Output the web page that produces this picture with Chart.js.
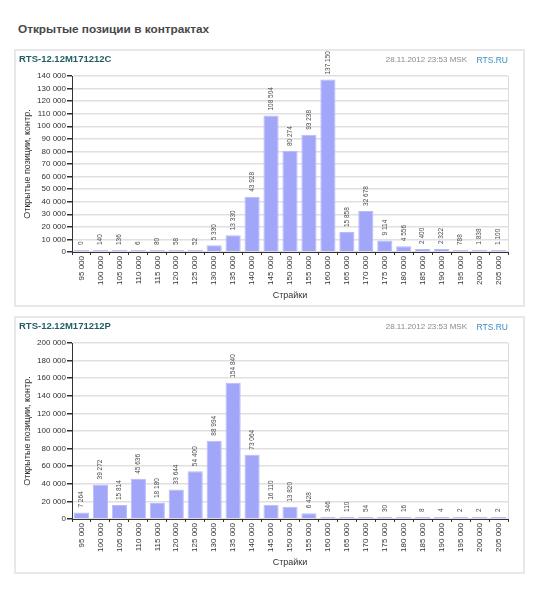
<!DOCTYPE html>
<html>
<head>
<meta charset="utf-8">
<script src="https://cdn.jsdelivr.net/npm/chart.js@4.4.0/dist/chart.umd.min.js"></script>
<style>
  body { margin: 0; background: #fff; width: 550px; height: 594px; position: relative; overflow: hidden;
         font-family: "Liberation Sans", Arial, sans-serif; }
  .page-title { position: absolute; left: 18px; top: 21px; font-size: 11.8px; font-weight: bold; color: #474747; line-height: 16px; }
  .panel { position: absolute; left: 14px; width: 511px; height: 258px; border: 2px solid #e8e8e8; box-sizing: border-box; }
  .head { position: absolute; line-height: 12px; z-index: 2; white-space: nowrap; }
  .code { left: 19px; font-size: 9.5px; font-weight: bold; color: #1f5f63; }
  .stamp { right: 83px; font-size: 8px; color: #8a8a8a; }
  .src { right: 42px; font-size: 8.5px; color: #3a8dc0; }
  canvas { position: absolute; left: 16px; z-index: 1; }
</style>
</head>
<body>
<div class="page-title">Открытые позиции в контрактах</div>

<div class="panel" style="top:49px"></div>
<div class="head code" style="top:53px">RTS-12.12M171212C</div>
<div class="head stamp" style="top:54px">28.11.2012 23:53 MSK</div>
<div class="head src" style="top:54px">RTS.RU</div>
<canvas id="callChart" width="504" height="260" style="top:45px"></canvas>

<div class="panel" style="top:316px"></div>
<div class="head code" style="top:320px">RTS-12.12M171212P</div>
<div class="head stamp" style="top:321px">28.11.2012 23:53 MSK</div>
<div class="head src" style="top:321px">RTS.RU</div>
<canvas id="putChart" width="504" height="260" style="top:312px"></canvas>

<script>
// strikes (x axis)
const strikes = [95000, 100000, 105000, 110000, 115000, 120000, 125000, 130000, 135000, 140000, 145000, 150000,
  155000, 160000, 165000, 170000, 175000, 180000, 185000, 190000, 195000, 200000, 205000];

// open interest, calls
const callOI = [0, 140, 136, 6, 80, 58, 52, 5330, 13330, 43928, 108504, 80274,
  93238, 137150, 15858, 32678, 9114, 4556, 2400, 2322, 788, 1838, 1100];

// open interest, puts
const putOI = [7264, 39272, 15814, 45636, 18180, 33644, 54400, 88994, 154840, 73064, 16110, 13820,
  6428, 346, 110, 54, 30, 16, 8, 4, 2, 2, 2];

const callAxis = { max: 140000, step: 10000 };
const putAxis = { max: 200000, step: 20000 };

const yTitle = "Открытые позиции, контр.";
const xTitle = "Страйки";

const FONT = "'Liberation Sans', Arial, sans-serif";

function fmt(v) {
  return String(v).replace(/\B(?=(\d{3})+(?!\d))/g, " ");
}

// right frame line + rotated value labels above bars
const barLabels = {
  id: "barLabels",
  beforeDatasetsDraw(chart) {
    const { ctx, chartArea } = chart;
    ctx.save();
    ctx.strokeStyle = "#dcdcdc";
    ctx.lineWidth = 1;
    ctx.beginPath();
    ctx.moveTo(chartArea.right + 0.5, chartArea.top);
    ctx.lineTo(chartArea.right + 0.5, chartArea.bottom);
    ctx.stroke();
    ctx.restore();
  },
  afterDatasetsDraw(chart) {
    const { ctx } = chart;
    const vals = chart.data.datasets[0].data;
    ctx.save();
    ctx.font = "6.5px " + FONT;
    ctx.fillStyle = "#4a4a4a";
    ctx.textAlign = "left";
    ctx.textBaseline = "middle";
    chart.getDatasetMeta(0).data.forEach((bar, i) => {
      ctx.save();
      ctx.translate(bar.x, Math.min(bar.y, bar.base) - 5);
      ctx.rotate(-Math.PI / 2);
      ctx.fillText(fmt(vals[i]), 0, 0);
      ctx.restore();
    });
    ctx.restore();
  },
};

function renderOIChart(id, values, axis) {
  new Chart(document.getElementById(id), {
    type: "bar",
    data: {
      labels: strikes.map(fmt),
      datasets: [{
        data: values,
        backgroundColor: "#a1a6f8",
        borderColor: "#b9bcfa",
        borderWidth: 1,
        minBarLength: 2,
        categoryPercentage: 1,
        barPercentage: 0.8,
      }],
    },
    options: {
      responsive: false,
      animation: false,
      layout: { padding: { left: 0, right: 12, top: 31, bottom: 0 } },
      plugins: {
        legend: { display: false },
        tooltip: { enabled: false },
      },
      scales: {
        x: {
          offset: true,
          grid: { offset: true, drawOnChartArea: false, tickLength: 3, tickColor: "#333" },
          border: { color: "#333", width: 1 },
          ticks: {
            autoSkip: false, minRotation: 90, maxRotation: 90, padding: 1,
            color: "#333", font: { family: FONT, size: 8 },
          },
          title: {
            display: true, text: xTitle, color: "#333",
            font: { family: FONT, size: 9 }, padding: { top: 4, bottom: 4 },
          },
          afterFit(scale) { scale.height = 53; },
        },
        y: {
          min: 0, max: axis.max,
          grid: { color: "#e0e0e0", lineWidth: 1.5, tickLength: 5, tickColor: "#333" },
          border: { color: "#333", width: 1 },
          ticks: {
            stepSize: axis.step, autoSkip: false, padding: 1, color: "#333",
            font: { family: FONT, size: 8 },
            callback: v => fmt(v),
          },
          title: {
            display: true, text: yTitle, color: "#333",
            font: { family: FONT, size: 9 }, padding: { top: 6, bottom: 0 },
          },
          afterFit(scale) { scale.width = 56; },
        },
      },
    },
    plugins: [barLabels],
  });
}

renderOIChart("callChart", callOI, callAxis);
renderOIChart("putChart", putOI, putAxis);
</script>
</body>
</html>
